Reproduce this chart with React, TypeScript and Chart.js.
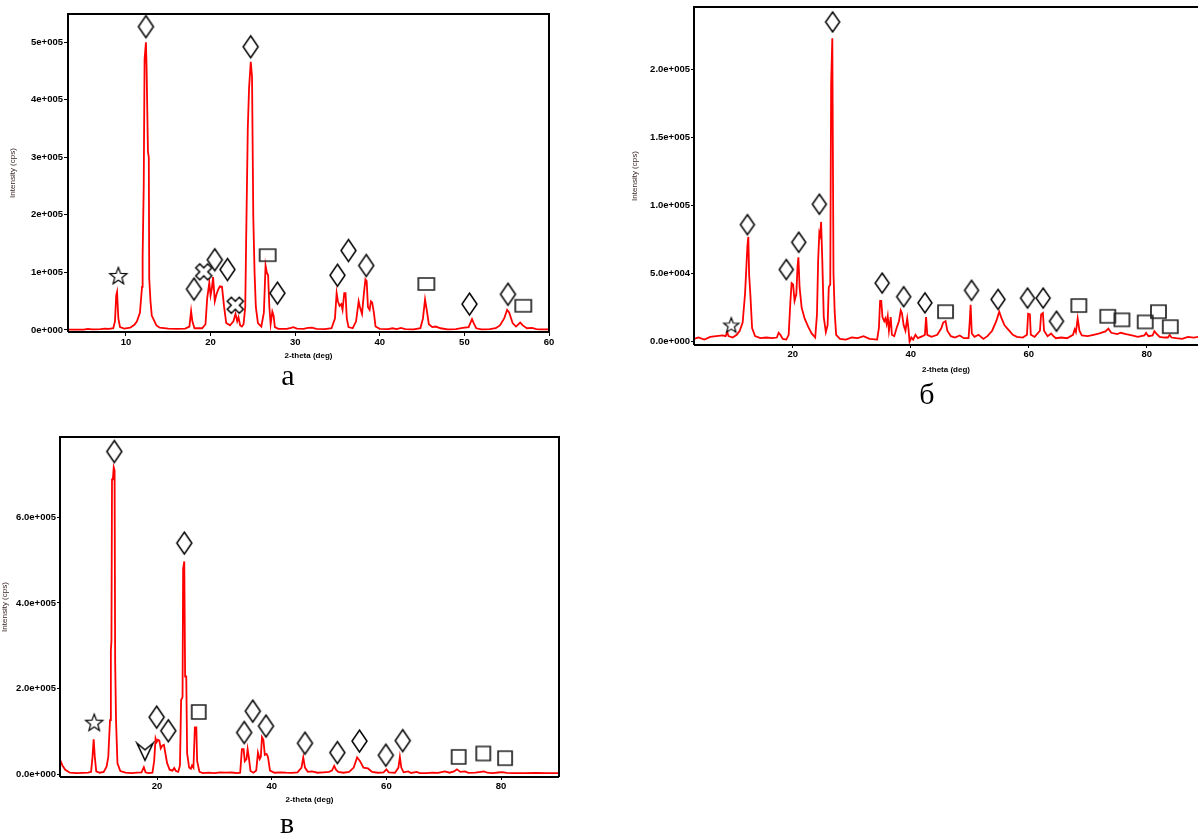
import React, { useEffect, useRef } from 'react';
import { Chart, registerables } from 'chart.js';

Chart.register(...registerables);

const FONT = '"Liberation Sans", Arial, sans-serif';
const SERIF = '"Liberation Serif", "Times New Roman", serif';

// ---------------- Panel а ----------------
const aPattern: [number, number][] = [
  [3.2, 500], [5, 800], [5.5, 2000], [6, 1000], [7, 1500], [7.5, 2500], [8, 2000], [8.5, 3000],
  [8.7, 15000], [8.85, 60000], [8.95, 66000], [9.1, 20000], [9.3, 5000], [9.8, 2500], [10.5, 4000],
  [11, 9000], [11.3, 15000], [11.65, 30000], [11.9, 75000], [11.97, 127000], [12.1, 250000],
  [12.2, 470000], [12.36, 500000], [12.44, 455000], [12.6, 310000], [12.7, 300000], [12.75, 90000],
  [12.9, 50000], [13.05, 25000], [13.6, 8000], [14, 4000], [15, 2500], [16, 2000], [17, 2500],
  [17.5, 6000], [17.7, 33000], [17.85, 15000], [18.1, 3000], [19.0, 3000], [19.4, 10000],
  [19.6, 55000], [19.85, 82000], [20.0, 60000], [20.15, 72000], [20.3, 92000], [20.5, 50000],
  [20.7, 62000], [20.9, 70000], [21.1, 76000], [21.35, 75000], [21.6, 40000], [21.85, 12000],
  [22.3, 8000], [22.7, 15000], [22.95, 28000], [23.15, 15000], [23.3, 22000], [23.5, 8000],
  [23.7, 6000], [23.9, 10000], [24.1, 40000], [24.2, 150000], [24.4, 350000], [24.55, 420000],
  [24.75, 466000], [24.9, 440000], [25.05, 196000], [25.2, 100000], [25.35, 40000], [25.6, 12000],
  [26.0, 6000], [26.3, 30000], [26.5, 112000], [26.65, 100000], [26.8, 95000], [26.95, 40000],
  [27.1, 10000], [27.3, 32000], [27.45, 25000], [27.6, 5000], [28, 2000], [29, 2000], [29.5, 3500],
  [29.8, 5000], [30.2, 2500], [31, 2000], [31.5, 3500], [32, 4000], [32.5, 2000], [33.5, 1500],
  [34.3, 3000], [34.7, 20000], [34.9, 64000], [35.05, 50000], [35.25, 42000], [35.45, 45000],
  [35.6, 35000], [35.8, 64000], [35.95, 64000], [36.1, 20000], [36.3, 5000], [36.8, 3000],
  [37.2, 15000], [37.5, 50000], [37.65, 40000], [37.9, 28000], [38.1, 60000], [38.3, 88000],
  [38.45, 85000], [38.6, 40000], [38.8, 35000], [38.95, 50000], [39.1, 48000], [39.3, 30000],
  [39.5, 6000], [40, 2000], [41, 1500], [41.5, 3000], [42, 1500], [42.5, 3500], [43, 1500],
  [44, 1000], [44.8, 3000], [45.1, 20000], [45.35, 53000], [45.55, 35000], [45.8, 10000],
  [46.2, 5000], [46.6, 6000], [47.2, 3000], [48, 1000], [49, 1500], [49.8, 3500], [50.5, 5000],
  [50.9, 19000], [51.1, 12000], [51.4, 3000], [52, 1000], [53, 1500], [53.7, 3000], [54.2, 8000],
  [54.7, 20000], [55.05, 35000], [55.3, 30000], [55.7, 12000], [56.1, 6000], [56.6, 13000],
  [56.9, 8000], [57.4, 3000], [58, 3500], [58.5, 1500], [59, 1000], [60, 1000],
];
const aMarkTheta = [9.1, 12.36, 18.04, 19.2, 20.5, 22.0, 22.92, 24.74, 26.75, 27.9, 35.0, 36.3, 38.4, 45.5, 50.6, 55.15, 56.96];
const aMarkCps = [94000, 527000, 71000, 101000, 122000, 105000, 43000, 492000, 130000, 64000, 95000, 138000, 112000, 80000, 45000, 62000, 42000];
const aMarkPhase = ['star', 'diamond', 'diamond', 'cross', 'diamond', 'diamond', 'cross', 'diamond', 'square', 'diamond', 'diamond', 'diamond', 'diamond', 'square', 'diamond', 'diamond', 'square'];
const aXTicks = [10, 20, 30, 40, 50, 60];
const aYTicks = [0, 100000, 200000, 300000, 400000, 500000];
const aYTickLabels = ['0e+000', '1e+005', '2e+005', '3e+005', '4e+005', '5e+005'];

// ---------------- Panel б ----------------
const bPattern: [number, number][] = [
  [3.3, 2000], [4, 3000], [5, 1500], [6, 3500], [7, 4000], [8.1, 4500], [8.6, 4000], [8.9, 6800],
  [9.1, 4000], [9.8, 3000], [10.5, 5000], [11, 8000], [11.5, 14000], [11.9, 35000], [12.1, 52000],
  [12.3, 70000], [12.46, 77000], [12.6, 49000], [12.8, 35000], [13.1, 10000], [13.6, 4000],
  [14.5, 2500], [15.5, 3000], [16.5, 2500], [17.3, 3000], [17.6, 6500], [17.9, 5000], [18.3, 2000],
  [18.9, 1500], [19.3, 5000], [19.6, 30000], [19.8, 43000], [20.05, 42000], [20.3, 30000],
  [20.6, 35000], [20.8, 55000], [20.95, 62000], [21.15, 40000], [21.5, 25000], [22, 17000],
  [22.6, 11000], [23.2, 6000], [23.8, 3000], [24.1, 20000], [24.3, 60000], [24.5, 80000],
  [24.65, 78000], [24.8, 88000], [25.0, 60000], [25.25, 18000], [25.6, 7000], [25.9, 12000],
  [26.1, 40000], [26.35, 42000], [26.5, 189000], [26.7, 223000], [26.9, 50000], [27.1, 22000],
  [27.35, 5000], [28, 2000], [29, 1500], [30, 3000], [31, 2500], [32, 4000], [33, 2000],
  [34.3, 1500], [34.6, 10000], [34.8, 30000], [35.0, 30000], [35.2, 18000], [35.5, 15000],
  [35.7, 17000], [35.9, 13000], [36.1, 18600], [36.3, 8000], [36.6, 18000], [36.8, 5000],
  [37.2, 4000], [37.6, 10000], [38.0, 15000], [38.3, 23000], [38.5, 21000], [38.8, 12000],
  [39.1, 8000], [39.4, 17000], [39.6, 10000], [39.8, 0], [40.1, 3000], [40.4, 1500], [40.8, 5000],
  [41.2, 2500], [42, 4000], [42.4, 5000], [42.6, 18000], [42.8, 5000], [43.5, 3500], [44.5, 5000],
  [45.2, 10000], [45.5, 14000], [45.9, 15000], [46.2, 8000], [46.8, 4000], [47.5, 3000],
  [48.3, 4500], [49, 2500], [49.8, 2500], [50.0, 15000], [50.15, 27000], [50.35, 6000],
  [50.8, 3500], [51.5, 5000], [52.3, 2000], [53, 4000], [53.8, 8000], [54.5, 15000], [55.0, 22000],
  [55.4, 17000], [55.9, 12000], [56.5, 9000], [57.3, 5000], [58, 3500], [59, 3000], [59.7, 5000],
  [59.9, 20500], [60.2, 20000], [60.35, 5000], [61, 3500], [61.9, 8000], [62.1, 20000],
  [62.4, 21000], [62.6, 8000], [63.2, 4000], [63.8, 6000], [64.1, 4400], [64.6, 2500], [65.5, 3000],
  [66.5, 2500], [67.5, 5000], [67.8, 9000], [68.0, 7000], [68.3, 17000], [68.6, 8000], [69, 4500],
  [70, 4000], [71, 5000], [72, 6000], [73, 7500], [73.5, 9500], [74, 6500], [75, 5500],
  [75.6, 6500], [76.5, 5500], [77.5, 4500], [78.5, 3500], [79.6, 4500], [79.9, 6400], [80.3, 4000],
  [81, 4500], [81.3, 7600], [81.6, 6000], [82.2, 3500], [83, 3000], [83.6, 3000], [83.9, 5000],
  [84.2, 3000], [85, 2500], [86, 2000], [87, 3500], [88, 3000], [88.8, 3500],
];
const bMarkTheta = [9.57, 12.3, 18.9, 21.0, 24.5, 26.75, 35.15, 38.8, 42.4, 45.9, 50.3, 54.8, 59.8, 62.45, 64.7, 68.5, 73.4, 75.8, 79.75, 82.0, 84.0];
const bMarkCps = [12000, 86000, 53000, 73000, 101000, 235000, 43000, 33000, 28500, 22000, 37700, 31000, 32000, 32000, 15000, 26500, 18600, 16000, 14500, 22000, 11000];
const bMarkPhase = ['star', 'diamond', 'diamond', 'diamond', 'diamond', 'diamond', 'diamond', 'diamond', 'diamond', 'square', 'diamond', 'diamond', 'diamond', 'diamond', 'diamond', 'square', 'square', 'square', 'square', 'square', 'square'];
const bXTicks = [20, 40, 60, 80];
const bYTicks = [0, 50000, 100000, 150000, 200000];
const bYTickLabels = ['0.0e+000', '5.0e+004', '1.0e+005', '1.5e+005', '2.0e+005'];

// ---------------- Panel в ----------------
const cPattern: [number, number][] = [
  [3.1, 33000], [3.5, 20000], [4, 10000], [4.8, 3000], [6, 2000], [7, 2500], [8, 3000], [8.5, 5000],
  [8.75, 40000], [8.95, 81000], [9.15, 40000], [9.4, 6000], [10, 3000], [10.7, 5000], [11.2, 17000],
  [11.5, 40000], [11.8, 126000], [11.95, 290000], [12.05, 310000], [12.15, 689000], [12.3, 690000],
  [12.45, 717000], [12.6, 710000], [12.7, 260000], [12.85, 126000], [13.1, 25000], [13.6, 7000],
  [14.5, 3000], [15.5, 2000], [16.5, 3000], [17.3, 4000], [17.7, 16000], [18.0, 4000], [18.5, 2000],
  [19.2, 3000], [19.5, 30000], [19.75, 83000], [19.95, 75000], [20.15, 80000], [20.4, 78000],
  [20.65, 60000], [20.9, 66000], [21.2, 68000], [21.5, 45000], [21.75, 26000], [22.2, 10000],
  [22.7, 8000], [23.0, 14000], [23.3, 7000], [23.7, 5000], [24.0, 20000], [24.2, 173000],
  [24.45, 180000], [24.55, 480000], [24.75, 497000], [24.9, 228000], [25.1, 228000], [25.25, 48000],
  [25.6, 15000], [25.9, 12000], [26.1, 20000], [26.35, 15000], [26.6, 109000], [26.85, 109000],
  [27.0, 30000], [27.4, 5000], [28, 2000], [29, 3000], [30, 2000], [31, 4000], [32, 3000],
  [33, 3500], [34, 2000], [34.5, 3000], [34.8, 58000], [35.1, 58000], [35.3, 30000], [35.6, 35000],
  [35.8, 58000], [36.0, 40000], [36.3, 7000], [36.8, 3000], [37.3, 8000], [37.6, 50000],
  [37.9, 35000], [38.1, 40000], [38.3, 86000], [38.55, 80000], [38.8, 45000], [39.1, 47000],
  [39.35, 40000], [39.7, 8000], [40.5, 3000], [41.5, 4000], [42.5, 3000], [43.5, 2500], [44.5, 4000],
  [45.2, 15000], [45.5, 39000], [45.8, 15000], [46.3, 5000], [47, 6000], [48, 3000], [49, 4000],
  [50, 5000], [50.5, 8000], [50.9, 19000], [51.2, 10000], [51.6, 5000], [52.5, 3000], [53.5, 5000],
  [54.3, 15000], [54.9, 39000], [55.4, 30000], [56, 15000], [56.8, 13000], [57.5, 5000],
  [58.5, 3000], [59.5, 4000], [60, 11000], [60.4, 4000], [61.5, 3000], [62.1, 15000], [62.35, 40000],
  [62.6, 15000], [63, 4000], [63.8, 6000], [64.3, 2500], [65.3, 5000], [65.8, 2000], [67, 2000],
  [68, 3000], [69, 2500], [70.2, 6000], [71, 3000], [71.8, 6000], [72.3, 11000], [72.9, 5000],
  [73.7, 6000], [74.3, 2500], [75.5, 3000], [76.5, 5000], [77.0, 6000], [77.6, 3000], [78.5, 2000],
  [79.5, 3500], [80.2, 4500], [81, 2500], [82, 2000], [84, 2000], [86, 2500], [88, 2000], [90, 2000],
];
const cMarkTheta = [9.05, 12.55, 17.9, 19.94, 21.96, 24.75, 27.27, 35.2, 36.7, 39.0, 45.8, 51.45, 55.3, 59.9, 62.85, 72.6, 76.9, 80.7];
const cMarkCps = [120000, 754000, 52000, 133000, 101000, 540000, 145000, 97000, 147000, 112000, 72000, 50000, 77000, 44000, 78000, 40000, 48000, 37000];
const cMarkPhase = ['star', 'diamond', 'arrow', 'diamond', 'diamond', 'diamond', 'square', 'diamond', 'diamond', 'diamond', 'diamond', 'diamond', 'diamond', 'diamond', 'diamond', 'square', 'square', 'square'];
const cXTicks = [20, 40, 60, 80];
const cYTicks = [0, 200000, 400000, 600000];
const cYTickLabels = ['0.0e+000', '2.0e+005', '4.0e+005', '6.0e+005'];

const yTitle = 'Intensity (cps)';
const xTitle = '2-theta (deg)';
const panelLetters = ['а', 'б', 'в'];

type Sizes = { dW: number; dH: number; sW: number; sH: number; star: number; cross: number; arW: number; arH: number };

function makeMarker(kind: string, s: Sizes): HTMLCanvasElement {
  const c = document.createElement('canvas');
  const pad = 2;
  let w = 10, h = 10;
  if (kind === 'diamond') { w = s.dW; h = s.dH; }
  else if (kind === 'square') { w = s.sW; h = s.sH; }
  else if (kind === 'star') { w = s.star; h = s.star; }
  else if (kind === 'cross') { w = s.cross; h = s.cross; }
  else if (kind === 'arrow') { w = s.arW; h = s.arH; }
  c.width = Math.ceil(w + pad * 2);
  c.height = Math.ceil(h + pad * 2);
  const ctx = c.getContext('2d')!;
  ctx.lineJoin = 'miter';
  ctx.strokeStyle = '#000';
  const cx = c.width / 2, cy = c.height / 2;
  ctx.beginPath();
  if (kind === 'diamond') {
    ctx.lineWidth = 1.5;
    ctx.moveTo(cx, pad); ctx.lineTo(pad + w, cy); ctx.lineTo(cx, pad + h); ctx.lineTo(pad, cy); ctx.closePath();
    ctx.stroke();
  } else if (kind === 'square') {
    ctx.lineWidth = 1.7;
    ctx.strokeStyle = '#222';
    ctx.rect(pad, pad, w, h);
    ctx.stroke();
  } else if (kind === 'star') {
    ctx.lineWidth = 1.2;
    const R = w / 2, r = R * 0.42;
    for (let i = 0; i < 10; i++) {
      const rr = i % 2 === 0 ? R : r;
      const a = -Math.PI / 2 + (i * Math.PI) / 5;
      const px = cx + rr * Math.cos(a), py = cy + 0.5 + rr * Math.sin(a);
      if (i === 0) ctx.moveTo(px, py); else ctx.lineTo(px, py);
    }
    ctx.closePath();
    ctx.fillStyle = '#fff';
    ctx.fill();
    ctx.stroke();
  } else if (kind === 'cross') {
    ctx.lineWidth = 1.5;
    const L = w * 0.5, t = w * 0.17;
    const pts = [[t, -L], [t, -t], [L, -t], [L, t], [t, t], [t, L], [-t, L], [-t, t], [-L, t], [-L, -t], [-t, -t], [-t, -L]];
    const k = Math.SQRT1_2;
    pts.forEach(([px, py], i) => {
      const rx = (px - py) * k, ry = (px + py) * k;
      if (i === 0) ctx.moveTo(cx + rx, cy + ry); else ctx.lineTo(cx + rx, cy + ry);
    });
    ctx.closePath();
    ctx.fillStyle = '#fff';
    ctx.fill();
    ctx.stroke();
  } else if (kind === 'arrow') {
    ctx.lineWidth = 1.5;
    ctx.moveTo(pad, pad); ctx.lineTo(pad + w / 2, pad + h); ctx.lineTo(pad + w, pad);
    ctx.lineTo(pad + w / 2, pad + h * 0.38); ctx.closePath();
    ctx.stroke();
  }
  return c;
}

type PanelProps = {
  pattern: [number, number][];
  markX: number[]; markY: number[]; markKind: string[];
  xMin: number; xMax: number; yMin: number; yMax: number;
  xTicks: number[]; yTicks: number[]; yLabels: string[];
  left: number; top: number; width: number; height: number;
  padTop: number; padRight: number; yAxisW: number; xAxisH: number;
  yTitlePad: number; xTitlePad: number; tickLen: number;
  sizes: Sizes; frameRight: boolean;
};

function Panel(p: PanelProps) {
  const ref = useRef<HTMLCanvasElement>(null);
  useEffect(() => {
    const canvas = ref.current!;
    const styles = p.markKind.map((k) => makeMarker(k, p.sizes));
    const frame = {
      id: 'frame',
      afterDatasetsDraw(chart: any) {
        const { ctx, chartArea: a } = chart;
        ctx.save();
        ctx.strokeStyle = '#000';
        ctx.lineWidth = 2;
        ctx.beginPath();
        ctx.moveTo(a.left, a.bottom);
        ctx.lineTo(a.left, a.top);
        ctx.lineTo(a.right, a.top);
        if (p.frameRight) ctx.lineTo(a.right, a.bottom);
        ctx.moveTo(a.left, a.bottom);
        ctx.lineTo(a.right, a.bottom);
        ctx.stroke();
        ctx.restore();
      },
    };
    const tickFont = { family: FONT, size: 9.5, weight: 'bold' as const };
    const chart = new Chart(canvas, {
      type: 'scatter',
      data: {
        datasets: [
          {
            data: p.pattern.map(([x, y]) => ({ x, y })),
            showLine: true,
            borderColor: '#ff0000',
            borderWidth: 1.8,
            pointRadius: 0,
            pointHoverRadius: 0,
            tension: 0,
            order: 2,
          },
          {
            data: p.markX.map((x, i) => ({ x, y: p.markY[i] })),
            showLine: false,
            pointStyle: styles as any,
            pointRadius: 5,
            pointHoverRadius: 5,
            clip: false as any,
            order: 1,
          },
        ],
      },
      options: {
        responsive: false,
        animation: false,
        events: [],
        layout: { padding: { top: p.padTop, right: p.padRight, left: 0, bottom: 0 } },
        plugins: { legend: { display: false }, tooltip: { enabled: false } },
        scales: {
          x: {
            type: 'linear',
            min: p.xMin,
            max: p.xMax,
            afterBuildTicks: (s: any) => { s.ticks = p.xTicks.map((v) => ({ value: v })); },
            afterFit: (s: any) => { s.height = p.xAxisH; s.paddingLeft = 0; s.paddingRight = 0; },
            ticks: { color: '#000', font: tickFont, padding: 1, maxRotation: 0, autoSkip: false, callback: (v: any) => String(v) },
            grid: { display: true, drawOnChartArea: false, drawTicks: true, tickLength: p.tickLen, color: '#000', lineWidth: 1 },
            border: { display: false },
            title: { display: true, text: xTitle, color: '#000', font: { family: FONT, size: 8, weight: 'bold' }, padding: { top: 0, bottom: p.xTitlePad } },
          },
          y: {
            type: 'linear',
            min: p.yMin,
            max: p.yMax,
            afterBuildTicks: (s: any) => { s.ticks = p.yTicks.map((v) => ({ value: v })); },
            afterFit: (s: any) => { s.width = p.yAxisW; s.paddingTop = 0; s.paddingBottom = 0; },
            ticks: { color: '#000', font: tickFont, padding: 1, autoSkip: false, callback: (_v: any, i: number) => p.yLabels[i] },
            grid: { display: true, drawOnChartArea: false, drawTicks: true, tickLength: p.tickLen, color: '#000', lineWidth: 1 },
            border: { display: false },
            title: { display: true, text: yTitle, color: '#3a2626', font: { family: FONT, size: 8 }, padding: { top: p.yTitlePad, bottom: 0 } },
          },
        },
      },
      plugins: [frame],
    });
    return () => chart.destroy();
  }, []);
  return (
    <canvas
      ref={ref}
      width={p.width}
      height={p.height}
      style={{ position: 'absolute', left: p.left, top: p.top, width: p.width, height: p.height }}
    />
  );
}

const letterStyle = (left: number, top: number): React.CSSProperties => ({
  position: 'absolute', left: left - 25, top, width: 50, textAlign: 'center',
  fontFamily: SERIF, fontSize: 30, lineHeight: '30px', color: '#000',
});

export default function App() {
  return (
    <div style={{ position: 'absolute', left: 0, top: 0, width: 1204, height: 836, overflow: 'hidden', background: '#fff' }}>
      <Panel
        pattern={aPattern} markX={aMarkTheta} markY={aMarkCps} markKind={aMarkPhase}
        xMin={3.15} xMax={60} yMin={-3500} yMax={549000}
        xTicks={aXTicks} yTicks={aYTicks} yLabels={aYTickLabels}
        left={0} top={0} width={560} height={370}
        padTop={14} padRight={11} yAxisW={68} xAxisH={38}
        yTitlePad={8} xTitlePad={9} tickLen={4}
        sizes={{ dW: 15, dH: 22, sW: 16, sH: 12, star: 18, cross: 17, arW: 16, arH: 17 }}
        frameRight={true}
      />
      <Panel
        pattern={bPattern} markX={bMarkTheta} markY={bMarkCps} markKind={bMarkPhase}
        xMin={3.25} xMax={88.7} yMin={-2500} yMax={246000}
        xTicks={bXTicks} yTicks={bYTicks} yLabels={bYTickLabels}
        left={600} top={0} width={604} height={390}
        padTop={7} padRight={0} yAxisW={94} xAxisH={45}
        yTitlePad={30} xTitlePad={15} tickLen={3}
        sizes={{ dW: 14, dH: 20, sW: 15, sH: 13, star: 16, cross: 16, arW: 16, arH: 17 }}
        frameRight={false}
      />
      <Panel
        pattern={cPattern} markX={cMarkTheta} markY={cMarkCps} markKind={cMarkPhase}
        xMin={3.08} xMax={90.1} yMin={-7000} yMax={788000}
        xTicks={cXTicks} yTicks={cYTicks} yLabels={cYTickLabels}
        left={0} top={430} width={570} height={406}
        padTop={7} padRight={11} yAxisW={60} xAxisH={59}
        yTitlePad={0} xTitlePad={31} tickLen={3}
        sizes={{ dW: 15, dH: 22, sW: 14, sH: 14, star: 18, cross: 16, arW: 16, arH: 17 }}
        frameRight={true}
      />
      <div style={letterStyle(288, 360)}>{panelLetters[0]}</div>
      <div style={letterStyle(927, 379)}>{panelLetters[1]}</div>
      <div style={letterStyle(287, 808)}>{panelLetters[2]}</div>
    </div>
  );
}
